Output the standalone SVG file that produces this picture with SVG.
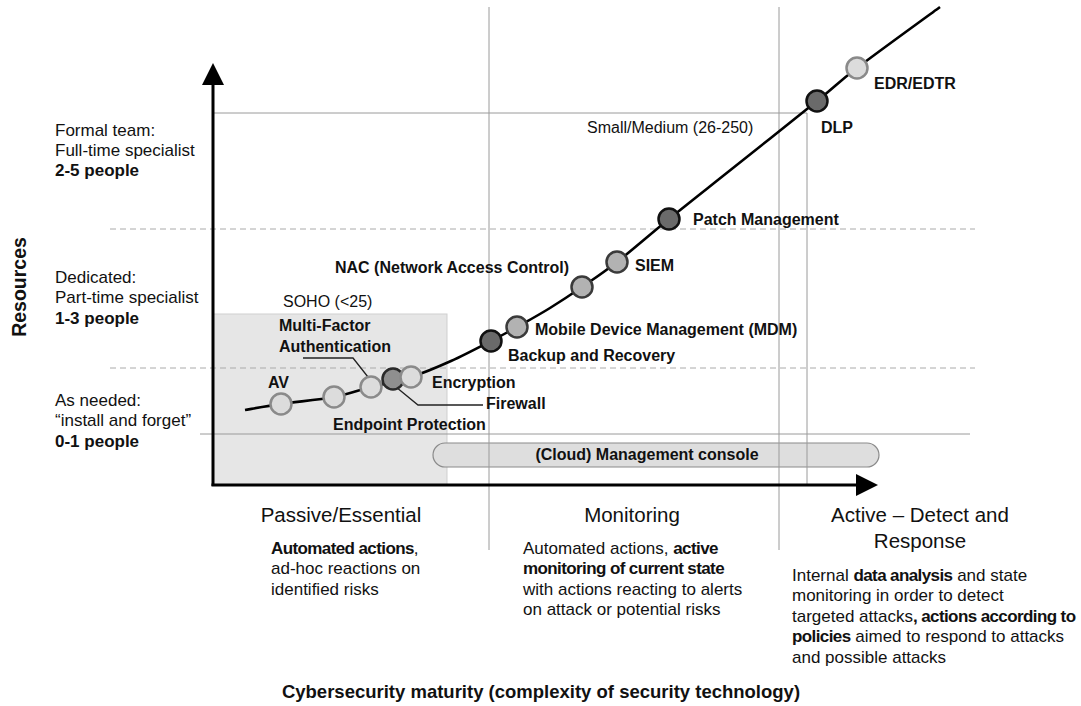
<svg xmlns="http://www.w3.org/2000/svg" width="1081" height="706" viewBox="0 0 1081 706">
<style>
text{font-family:"Liberation Sans",Arial,sans-serif;fill:#111}
.lbl{font-size:16px;font-weight:bold}
.reg{font-size:17px}
.b{font-weight:bold}
.bd{font-weight:bold;letter-spacing:-0.6px}
.hdr{font-size:20.5px}
.grid{stroke:#9a9a9a;stroke-width:1;fill:none}
.dash{stroke:#aaaaaa;stroke-width:1;stroke-dasharray:6,4;fill:none}
.axis{stroke:#000;stroke-width:3;fill:none}
.leader{stroke:#222;stroke-width:1.3;fill:none}
.c-light{fill:#dcdcdc;stroke:#8a8a8a;stroke-width:2.5}
.c-med{fill:#b2b2b2;stroke:#3a3a3a;stroke-width:2.5}
.c-fw{fill:#8f8f8f;stroke:#2a2a2a;stroke-width:2.5}
.c-dark{fill:#6a6a6a;stroke:#111;stroke-width:2.5}
</style>
<rect width="1081" height="706" fill="#fff"/>

<g id="backgrounds">
<rect id="soho-box" x="213" y="314" width="234" height="171" fill="#e6e6e6" stroke="#cfcfcf" stroke-width="1"/>
<g id="console">
<rect x="433" y="443" width="446" height="24" rx="12" ry="12" fill="#dedede" stroke="#8a8a8a" stroke-width="1.2"/>
<text class="lbl" x="647" y="460" text-anchor="middle">(Cloud) Management console</text>
</g>
</g>

<g id="gridlines">
<line class="grid" x1="489" y1="7" x2="489" y2="550"/>
<line class="grid" x1="779" y1="7" x2="779" y2="550"/>
<polyline class="grid" points="213,113 807,113 807,485"/>
<line class="dash" x1="110" y1="229" x2="975" y2="229"/>
<line class="dash" x1="110" y1="368" x2="975" y2="368"/>
<line class="grid" x1="200" y1="434" x2="970" y2="434"/>
</g>

<g id="axes">
<line class="axis" x1="213" y1="80" x2="213" y2="486"/>
<polygon points="213,63 202,85 224,85" fill="#000"/>
<line class="axis" x1="211.5" y1="485" x2="860" y2="485"/>
<polygon points="878,485 856,474 856,496" fill="#000"/>
</g>

<g id="connectors">
<path id="maturity-curve" fill="none" stroke="#000" stroke-width="2.6" d="M245,410 C251,409 266.2,406.2 281,404 C295.8,401.8 319,399.8 334,397 C349,394.2 358.2,390.3 371,387 C383.8,383.7 397.7,381.3 411,377 C424.3,372.7 437.7,367 451,361 C464.3,355 480,346.7 491,341 C502,335.3 507.2,332.5 517,327 C526.8,321.5 539.2,314.7 550,308 C560.8,301.3 570.8,294.7 582,287 C593.2,279.3 602.5,273.3 617,262 C631.5,250.7 649.7,234.7 669,219 C688.3,203.3 708.3,187.7 733,168 C757.7,148.3 796.3,117.7 817,101 C837.7,84.3 836.5,83.7 857,68 C877.5,52.3 926.2,17.2 940,7"/>
<polyline class="leader" points="303,358 353,358 368,377"/>
<polyline class="leader" points="396,387 418,405 483,405"/>
</g>

<g id="left-labels">
<text class="reg" x="55" y="136">Formal team:</text>
<text class="reg" x="55" y="156">Full-time specialist</text>
<text class="reg b" x="55" y="176">2-5 people</text>
<text class="reg" x="55" y="283">Dedicated:</text>
<text class="reg" x="55" y="303">Part-time specialist</text>
<text class="reg b" x="55" y="324">1-3 people</text>
<text class="reg" x="55" y="406">As needed:</text>
<text class="reg" x="55" y="426">“install and forget”</text>
<text class="reg b" x="55" y="447">0-1 people</text>
<text x="26" y="287" font-size="19.5" font-weight="bold" text-anchor="middle" transform="rotate(-90 26 287)">Resources</text>
</g>

<g id="region-labels">
<text x="283" y="307" font-size="16">SOHO (&lt;25)</text>
<text x="587" y="133" font-size="16">Small/Medium (26-250)</text>
</g>

<g id="node-av"><circle class="c-light" cx="281" cy="404" r="10.5"/><text class="lbl" x="268" y="388">AV</text></g>
<g id="node-endpoint"><circle class="c-light" cx="334" cy="397" r="10.5"/><text class="lbl" x="333" y="430">Endpoint Protection</text></g>
<g id="node-mfa"><circle class="c-light" cx="371" cy="387" r="10.5"/><text class="lbl" x="279" y="331">Multi-Factor</text><text class="lbl" x="279" y="352">Authentication</text></g>
<g id="node-firewall"><circle class="c-fw" cx="393" cy="379" r="10.5"/><text class="lbl" x="486" y="409">Firewall</text></g>
<g id="node-encryption"><circle class="c-light" cx="411" cy="377" r="10.5"/><text class="lbl" x="432" y="388">Encryption</text></g>
<g id="node-backup"><circle class="c-dark" cx="491" cy="341" r="10.5"/><text class="lbl" x="508" y="361">Backup and Recovery</text></g>
<g id="node-mdm"><circle class="c-med" cx="517" cy="327" r="10.5"/><text class="lbl" x="535" y="335">Mobile Device Management (MDM)</text></g>
<g id="node-nac"><circle class="c-med" cx="582" cy="287" r="10.5"/><text class="lbl" x="335" y="273">NAC (Network Access Control)</text></g>
<g id="node-siem"><circle class="c-med" cx="617" cy="262" r="10.5"/><text class="lbl" x="635" y="271">SIEM</text></g>
<g id="node-patch"><circle class="c-dark" cx="669" cy="219" r="10.5"/><text class="lbl" x="693" y="225">Patch Management</text></g>
<g id="node-dlp"><circle class="c-dark" cx="817" cy="101" r="10.5"/><text class="lbl" x="821" y="133">DLP</text></g>
<g id="node-edr"><circle class="c-light" cx="857" cy="68" r="10.5"/><text class="lbl" x="874" y="89">EDR/EDTR</text></g>

<g id="stage-passive">
<text class="hdr" x="341" y="522" text-anchor="middle">Passive/Essential</text>
<text class="reg" x="271" y="554"><tspan class="bd">Automated actions</tspan>,</text>
<text class="reg" x="271" y="574">ad-hoc reactions on</text>
<text class="reg" x="271" y="595">identified risks</text>
</g>
<g id="stage-monitoring">
<text class="hdr" x="632" y="522" text-anchor="middle">Monitoring</text>
<text class="reg" x="523" y="554">Automated actions, <tspan class="bd">active</tspan></text>
<text class="reg bd" x="523" y="574">monitoring of current state</text>
<text class="reg" x="523" y="595">with actions reacting to alerts</text>
<text class="reg" x="523" y="615">on attack or potential risks</text>
</g>
<g id="stage-active">
<text class="hdr" x="920" y="522" text-anchor="middle">Active – Detect and</text>
<text class="hdr" x="920" y="548" text-anchor="middle">Response</text>
<text class="reg" x="792" y="581">Internal <tspan class="bd">data analysis</tspan> and state</text>
<text class="reg" x="792" y="601">monitoring in order to detect</text>
<text class="reg" x="792" y="622">targeted attacks<tspan class="bd">, actions according to</tspan></text>
<text class="reg" x="792" y="642"><tspan class="bd">policies</tspan> aimed to respond to attacks</text>
<text class="reg" x="792" y="663">and possible attacks</text>
</g>

<text id="x-axis-title" x="541" y="698" font-size="18.5" font-weight="bold" text-anchor="middle">Cybersecurity maturity (complexity of security technology)</text>
</svg>
